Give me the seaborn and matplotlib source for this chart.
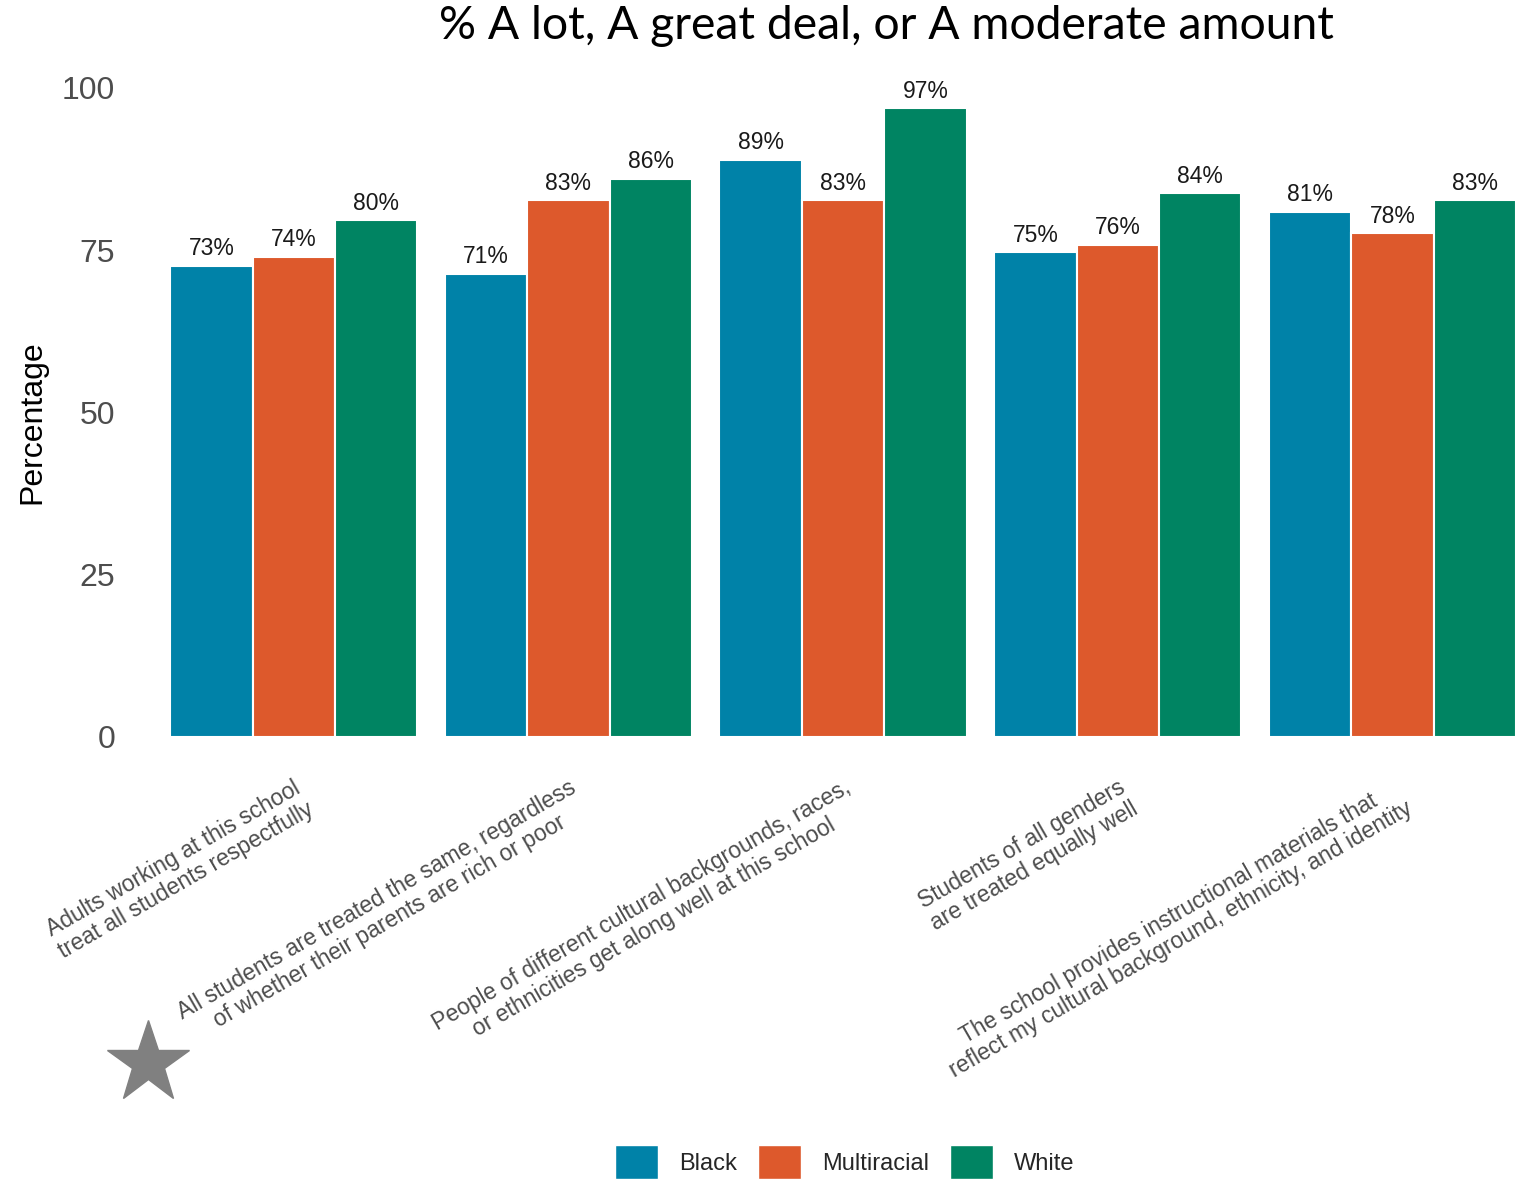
import matplotlib
matplotlib.use("Agg")
import matplotlib.pyplot as plt
from matplotlib.lines import Line2D
import seaborn as sns
import pandas as pd

# Survey items (x categories) and their wrapped tick labels
items = [
    "Adults respectful",
    "Rich or poor",
    "Get along",
    "All genders",
    "Instructional materials",
]
item_labels = [
    "Adults working at this school\ntreat all students respectfully",
    "All students are treated the same, regardless\nof whether their parents are rich or poor",
    "People of different cultural backgrounds, races,\nor ethnicities get along well at this school",
    "Students of all genders\nare treated equally well",
    "The school provides instructional materials that\nreflect my cultural background, ethnicity, and identity",
]

groups = ["Black", "Multiracial", "White"]
black = [72.6, 71.4, 88.9, 74.7, 80.9]
multiracial = [74.0, 82.7, 82.7, 75.8, 77.6]
white = [79.6, 86.0, 96.9, 83.8, 82.7]

colors = ["#0082A8", "#DD592C", "#008462"]
y_ticks = [0, 25, 50, 75, 100]

df = pd.DataFrame({
    "item": items * 3,
    "group": [g for g in groups for _ in items],
    "pct": black + multiracial + white,
})

sns.set_style("white")
plt.rcParams["font.family"] = ["Liberation Sans", "DejaVu Sans"]

W, H = 1521, 1185
fig = plt.figure(figsize=(W / 100, H / 100), dpi=100)
ax = fig.add_axes([129 / W, (H - 737) / H, 1 - 129 / W, (737 - 55.5) / H])

sns.barplot(
    data=df, x="item", y="pct", hue="group", order=items, hue_order=groups,
    palette=colors, width=0.9, gap=0, edgecolor="white", linewidth=1.5,
    saturation=1, legend=False, ax=ax,
)

for cont in ax.containers:
    ax.bar_label(
        cont, labels=[f"{v:.0f}%" for v in cont.datavalues],
        padding=4, fontsize=16.5, color="#1a1a1a",
    )

ax.set_xlim(-0.6, (W - 294) / 274.6)
ax.set_ylim(0, 105)
ax.set_yticks(y_ticks)
ax.set_yticklabels([str(t) for t in y_ticks], fontsize=23, color="#4d4d4d")
ax.set_xticks(range(len(items)))
ax.set_xticklabels(
    item_labels, rotation=30, ha="right", va="top", rotation_mode="anchor",
    fontsize=16.5, color="#4d4d4d", linespacing=1.1, multialignment="center",
)
ax.tick_params(axis="both", length=0)
ax.tick_params(axis="y", pad=10)
ax.tick_params(axis="x", pad=28)
ax.set_xlabel("")
ax.set_ylabel("")
ax.grid(False)
sns.despine(ax=ax, left=True, bottom=True)

fig.text(32 / W, 1 - 422 / H, "Percentage", rotation=90, ha="center",
         va="center", fontsize=23, color="black")
fig.text(886 / W, 1 - 26 / H, "% A lot, A great deal, or A moderate amount",
         ha="center", va="center", fontsize=33.3, color="black",
         family=["Lato", "DejaVu Sans"])

# decorative star in the lower left corner
fig.add_artist(Line2D([148 / W], [1 - 1063 / H], marker="*", markersize=62,
                      color="#808080", linestyle="none",
                      transform=fig.transFigure))

handles = [plt.Rectangle((0, 0), 1, 1, facecolor=c, edgecolor="white",
                         linewidth=1) for c in colors]
fig.legend(handles, groups, loc="center", bbox_to_anchor=(845 / W, (H - 1162) / H),
           ncol=3, frameon=False, fontsize=17, handlelength=1.8,
           handleheight=1.8, handletextpad=0.9, columnspacing=0.9)

fig.savefig("out.png", dpi=100)
